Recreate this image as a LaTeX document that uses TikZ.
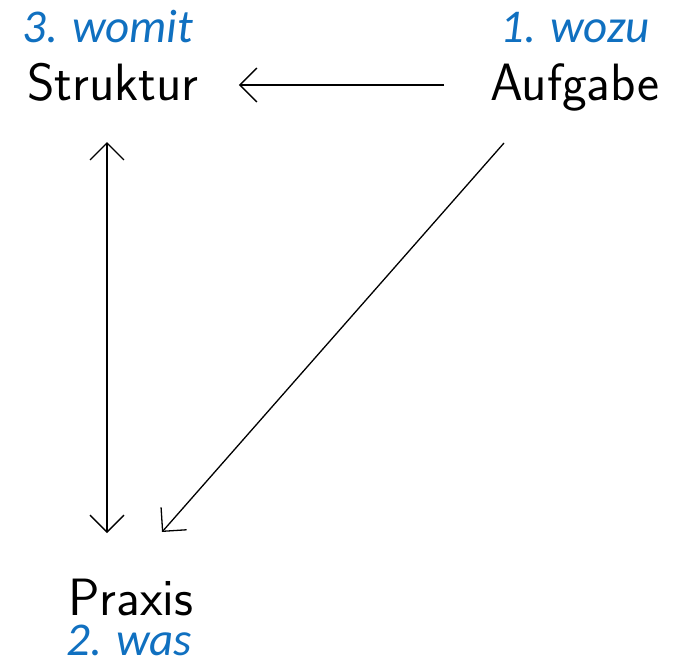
\documentclass[tikz,border=0pt]{standalone}
\usepackage{fontspec}
\newfontfamily\calfont{Carlito}
\usetikzlibrary{arrows.meta}
\definecolor{qblue}{RGB}{16,112,192}
\tikzset{
  term/.style={inner sep=0pt, anchor=base west, font=\sffamily\fontsize{52.5}{52.5}\selectfont},
  qlabel/.style={inner sep=0pt, anchor=base west, text=qblue, font=\calfont\itshape\fontsize{47}{47}\selectfont},
  conn/.style={line width=1.3pt, arrows={-Straight Barb[length=17pt,width=34pt,line width=1.3pt]}},
  conn2/.style={line width=1.3pt, arrows={Straight Barb[length=17pt,width=34pt,line width=1.3pt]-Straight Barb[length=17pt,width=34pt,line width=1.3pt]}}
}
\begin{document}
\begin{tikzpicture}[x=1pt,y=-1pt]
\useasboundingbox (0,0) rectangle (681,664);
\node[qlabel] (q3) at (22,42) {3. womit};
\node[qlabel] (q1) at (500,42) {1. wozu};
\node[term] (struktur) at (27,100) {Struktur};
\node[term] (aufgabe) at (490,100) {Aufgabe};
\node[term] (praxis) at (68,615) {Praxis};
\node[qlabel] (q2) at (66,655) {2. was};
\draw[conn] ([xshift=-46pt,yshift=15pt]aufgabe.base west) -- ([xshift=40pt,yshift=15pt]struktur.base east);
\draw[conn2] ([xshift=80pt,yshift=-42pt]struktur.base west) -- ([xshift=39pt,yshift=82pt]praxis.base west);
\draw[conn] ([xshift=14pt,yshift=-43pt]aufgabe.base west) -- ([xshift=94pt,yshift=83pt]praxis.base west);
\end{tikzpicture}
\end{document}
